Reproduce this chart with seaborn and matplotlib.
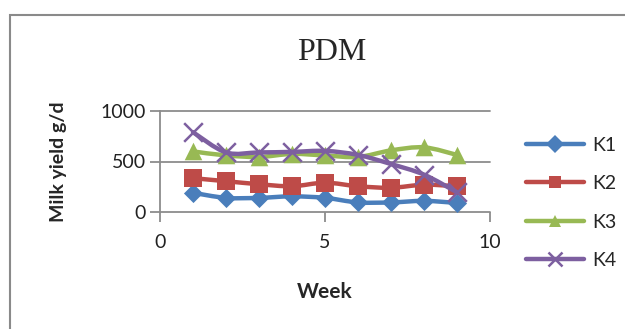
import numpy as np
import matplotlib
matplotlib.use("Agg")
import matplotlib.pyplot as plt
from matplotlib.path import Path
from matplotlib.patches import PathPatch, Rectangle
from matplotlib.lines import Line2D
import seaborn as sns

# Weekly milk yield (g/d) per group
weeks = [1, 2, 3, 4, 5, 6, 7, 8, 9]
k1 = [190, 140, 140, 155, 140, 95, 95, 110, 90]
k2 = [335, 305, 275, 255, 290, 255, 240, 270, 255]
k3 = [600, 560, 545, 575, 560, 545, 610, 640, 565]
k4 = [790, 590, 590, 595, 605, 565, 475, 370, 195]

series_names = ["K1", "K2", "K3", "K4"]
series_values = [k1, k2, k3, k4]
colors = ["#4A7EBB", "#BE4B48", "#98B954", "#7D5FA0"]
markers = ["D", "s", "^", "x"]
marker_sizes = [95, 160, 160, 180]

x_ticks = [0, 5, 10]
y_ticks = [0, 500, 1000]

sns.set_theme(style="white")
plt.rcParams["font.family"] = ["Lato", "DejaVu Sans"]

fig = plt.figure(figsize=(6.25, 3.29), dpi=100)
ax = fig.add_axes([160 / 625, 1 - 212 / 329, 330 / 625, 101 / 329])


def smooth_path(xs, ys):
    """Bezier path through the points, Excel-style smoothing."""
    pts = np.column_stack([xs, ys]).astype(float)
    n = len(pts)
    verts = [pts[0]]
    codes = [Path.MOVETO]
    for i in range(n - 1):
        p0 = pts[i - 1] if i > 0 else pts[i]
        p1 = pts[i]
        p2 = pts[i + 1]
        p3 = pts[i + 2] if i + 2 < n else pts[i + 1]
        c1 = p1 + (p2 - p0) / 6.0
        c2 = p2 - (p3 - p1) / 6.0
        verts += [c1, c2, p2]
        codes += [Path.CURVE4] * 3
    return Path(verts, codes)


for idx, (name, vals, col, mk, ms) in enumerate(
        zip(series_names, series_values, colors, markers, marker_sizes)):
    z = 3 + idx * 2
    ax.add_patch(PathPatch(smooth_path(weeks, vals), facecolor="none",
                           edgecolor=col, lw=3.2, zorder=z,
                           capstyle="round", joinstyle="round"))
    if mk == "x":
        sns.scatterplot(x=weeks, y=vals, marker=mk, color=col, s=ms,
                        linewidth=1.8, ax=ax, zorder=z + 1, legend=False)
    else:
        sns.scatterplot(x=weeks, y=vals, marker=mk, color=col, s=ms,
                        linewidth=0, ax=ax, zorder=z + 1, legend=False)

ax.set_xlim(0, 10)
ax.set_ylim(0, 1000)
ax.set_xticks(x_ticks)
ax.set_yticks(y_ticks)
ax.set_xticklabels([str(v) for v in x_ticks])
ax.set_yticklabels([str(v) for v in y_ticks])

grid_col = "#8C8C8C"
for v in y_ticks:
    ax.axhline(v, color=grid_col, lw=1.3, zorder=1, clip_on=False)
for s in ["top", "right", "bottom"]:
    ax.spines[s].set_visible(False)
ax.spines["left"].set_color(grid_col)
ax.spines["left"].set_linewidth(1.3)
ax.tick_params(axis="both", which="major", direction="out", length=7,
               width=1.3, color=grid_col, labelsize=14, labelcolor="#222222",
               bottom=True, left=True, pad=3)
ax.tick_params(axis="x", pad=9)

ax.set_xlabel("Week", fontsize=15, fontweight="bold", labelpad=22)
ax.set_ylabel("Milk yield g/d", fontsize=14, fontweight="bold", labelpad=24)
ax.patch.set_alpha(0)

fig.text(332 / 625, 1 - 53 / 329, "PDM", ha="center", va="center",
         fontsize=23, family=["Liberation Serif", "DejaVu Serif"])

handles = [Line2D([0], [0], color=c, lw=3.2, marker=m,
                  markersize=9 if m != "x" else 10,
                  markeredgewidth=1.8 if m == "x" else 0)
           for c, m in zip(colors, markers)]
fig.legend(handles, series_names, loc="upper left",
           bbox_to_anchor=(518 / 625, 1 - 129 / 329), frameon=False,
           fontsize=14, handlelength=3.0, handletextpad=0.4,
           labelspacing=1.1, borderaxespad=0)

fig.add_artist(Rectangle((9.5 / 625, -0.5), 2.0, 1.5 - 15 / 329,
                         transform=fig.transFigure, fill=False,
                         edgecolor="#8A8A8A", lw=1.5))

fig.savefig("out.png", dpi=100)
